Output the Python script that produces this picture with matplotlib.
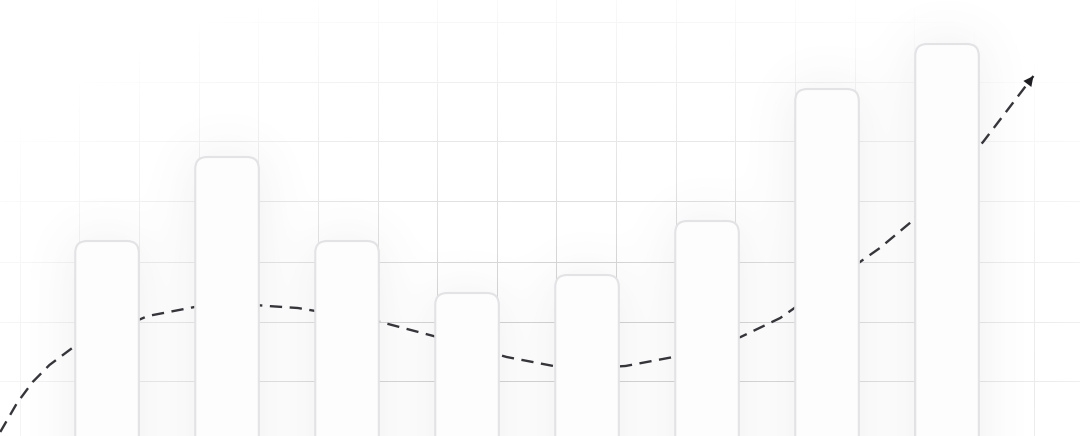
import numpy as np
import matplotlib
matplotlib.use("Agg")
import matplotlib.pyplot as plt
from matplotlib.patches import FancyBboxPatch

# bar heights (in px-like units from the bottom)
bar_pos = [0, 1, 2, 3, 4, 5, 6, 7]
bar_vals = [195, 279, 195, 143, 161, 215, 347, 392]

# trend curve points (x in bar-index units, y in the same value units)
trend_x = [-0.89, -0.75, -0.62, -0.48, -0.29, 0.34, 0.73, 1.03, 1.34, 1.59,
           2.28, 2.72, 3.33, 3.72, 4.03, 4.32, 4.72, 5.28, 5.61, 6.44, 6.71,
           7.30, 7.72]
trend_y = [4, 33, 54, 71, 88, 120, 129, 133, 130, 128,
           114, 100, 79, 70, 68, 70, 79, 99, 118, 188, 215,
           294, 360]

W, H = 1080, 436
BAR_W = 0.53
X_LIM = (-0.892, 8.108)
Y_LIM = (0, 436)

fig = plt.figure(figsize=(W / 100, H / 100), dpi=100)
fig.patch.set_facecolor("white")
ax = fig.add_axes([0, 0, 1, 1])
ax.set_xlim(*X_LIM)
ax.set_ylim(*Y_LIM)
ax.axis("off")

# grid as an image, fading out toward the edges
yy, xx = np.mgrid[0:H, 0:W]
grid = np.zeros((H, W))
for gx in np.arange(19.6, W, 59.65):
    grid[:, int(round(gx))] = 1
for gy in np.arange(23, H, 59.7):
    grid[int(round(gy)), :] = 1
vis = np.clip(1.25 - np.sqrt(((xx - 580) / 560.0) ** 2 + ((yy - 380) / 340.0) ** 2), 0, 1)
g_img = np.zeros((H, W, 4))
g_img[..., :3] = 0.83
g_img[..., 3] = grid * vis
ext = (X_LIM[0], X_LIM[1], Y_LIM[0], Y_LIM[1])
ax.imshow(g_img, extent=ext, origin="upper", aspect="auto", zorder=0,
          interpolation="nearest")


def blur(a, s):
    r = int(3 * s)
    t = np.arange(-r, r + 1)
    k = np.exp(-t ** 2 / (2.0 * s * s))
    k /= k.sum()
    a = np.apply_along_axis(lambda v: np.convolve(v, k, mode="same"), 0, a)
    a = np.apply_along_axis(lambda v: np.convolve(v, k, mode="same"), 1, a)
    return a


# soft glow behind the bars
pad = 90
mask = np.zeros((H + 2 * pad, W + 2 * pad))
for p, v in zip(bar_pos, bar_vals):
    (x0, y0), (x1, y1) = ax.transData.transform([(p - BAR_W / 2, 0), (p + BAR_W / 2, v)])
    c0, c1 = int(round(x0)) + pad, int(round(x1)) + pad
    r0 = int(round(H - y1)) + pad
    mask[r0:, c0:c1] = 1
sh = blur(mask, 26)[pad:pad + H, pad:pad + W]
s_img = np.zeros((H, W, 4))
s_img[..., 0] = 0.34
s_img[..., 1] = 0.34
s_img[..., 2] = 0.44
s_img[..., 3] = np.clip(sh * 0.10, 0, 1)
ax.imshow(s_img, extent=ext, origin="upper", aspect="auto", zorder=1)

# dashed trend line, passing behind the bars
ax.plot(trend_x, trend_y, color="#35353a", lw=1.7, dashes=(5.2, 3.2),
        solid_capstyle="butt", zorder=2)
ax.annotate("", xy=(trend_x[-1], trend_y[-1]), xytext=(trend_x[-2], trend_y[-2]),
            arrowprops=dict(arrowstyle="-|>", color="#1f1f23", lw=0,
                            mutation_scale=18, shrinkA=0, shrinkB=0),
            zorder=5)

# rounded bars
for p, v in zip(bar_pos, bar_vals):
    bar = FancyBboxPatch((p - BAR_W / 2, -30), BAR_W, v + 30,
                         boxstyle="round,pad=0,rounding_size=0.1",
                         mutation_aspect=120,
                         facecolor="#fdfdfd", edgecolor="#e3e3e6", lw=1.5,
                         zorder=3)
    ax.add_patch(bar)

ax.set_xlim(*X_LIM)
ax.set_ylim(*Y_LIM)
fig.savefig("out.png", dpi=100, facecolor="white")
